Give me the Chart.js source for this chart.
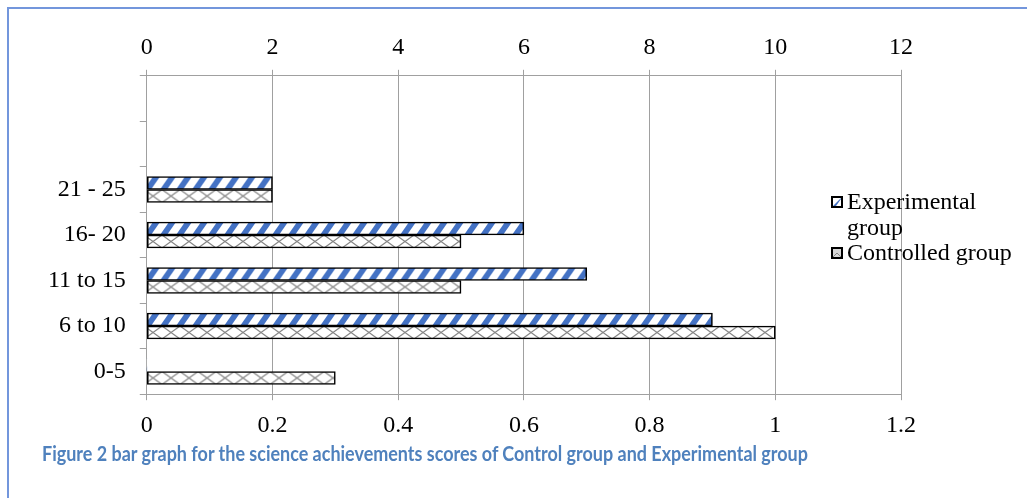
<!DOCTYPE html>
<html>
<head>
<meta charset="utf-8">
<script src="https://cdn.jsdelivr.net/npm/chart.js@4.4.1/dist/chart.umd.min.js"></script>
<style>
  html, body { margin: 0; padding: 0; background: #fff; }
  #wrap { position: relative; width: 1027px; height: 498px; overflow: hidden; }
  #frame { position: absolute; left: 7px; top: 7px; right: -10px; bottom: -10px;
           border-top: 2px solid #7396dc; border-left: 2px solid #7396dc; }
  #chart { position: absolute; left: 0; top: 0; }
  #legend { position: absolute; left: 831px; top: 189px; font-family: "Liberation Serif", serif;
            font-size: 24px; line-height: 25.5px; color: #000; }
  #legend .item { position: relative; padding-left: 16px; }
  #legend canvas { position: absolute; left: 0; top: 7px; }
  #caption { position: absolute; left: 42px; top: 441px; font-family: Lato, sans-serif;
             font-weight: bold; font-size: 20px; color: #4f81bd; white-space: nowrap;
             transform-origin: 0 0; }
</style>
</head>
<body>
<div id="wrap">
  <div id="frame"></div>
  <canvas id="chart" width="1027" height="498"></canvas>
  <div id="legend"></div>
  <div id="caption">Figure 2 bar graph for the science achievements scores of Control group and Experimental group</div>
</div>
<script>
// score bands, top to bottom (two empty rows above the first band)
var bands = ["", "", "21 - 25", "16- 20", "11 to 15", "6 to 10", "0-5"];
var experimental = [null, null, 0.2, 0.6, 0.7, 0.9, 0];
var controlled = [null, null, 0.2, 0.5, 0.5, 1.0, 0.3];
var seriesNames = ["Experimental group", "Controlled group"];

var BAR_H = 13;
var BLUE = "#4472c4";

function stripeTile() {
    var c = document.createElement("canvas");
    var w = 16, h = BAR_H;
    c.width = w; c.height = h;
    var g = c.getContext("2d");
    g.fillStyle = "#fff";
    g.fillRect(0, 0, w, h);
    g.fillStyle = BLUE;
    for (var k = -1; k <= 1; k++) {
        var x = k * w;
        g.beginPath();
        g.moveTo(x, h);
        g.lineTo(x + 7, h);
        g.lineTo(x + 7 + 9, 0);
        g.lineTo(x + 9, 0);
        g.closePath();
        g.fill();
    }
    return c;
}

function crossTile() {
    var c = document.createElement("canvas");
    var w = 18, h = BAR_H;
    c.width = w; c.height = h;
    var g = c.getContext("2d");
    g.fillStyle = "#fff";
    g.fillRect(0, 0, w, h);
    g.strokeStyle = "#858585";
    g.lineWidth = 1.2;
    g.beginPath();
    g.moveTo(0, 0); g.lineTo(w, h);
    g.moveTo(0, h); g.lineTo(w, 0);
    g.stroke();
    return c;
}

var tiles = [stripeTile(), crossTile()];
var ctx = document.getElementById("chart").getContext("2d");

// pattern anchored at each bar's top edge so every bar shows the same band
function barFill(c) {
    var tile = tiles[c.datasetIndex];
    var pat = ctx.createPattern(tile, "repeat");
    var y = c.chart.scales && c.chart.scales.y;
    if (y && c.type === "data") {
        var top = y.getPixelForValue(c.dataIndex) - (c.datasetIndex === 0 ? BAR_H : 0);
        pat.setTransform(new DOMMatrix([1, 0, 0, 1, 0, top]));
    }
    return pat;
}

function barBorder(c) { return c.raw ? 1.6 : 0; }

Chart.defaults.font.family = "'Liberation Serif', 'Times New Roman', serif";
Chart.defaults.font.size = 24;
Chart.defaults.color = "#000";

var GRID = "#a0a0a0";

new Chart(ctx, {
    type: "bar",
    data: {
        labels: bands,
        datasets: [
            { label: seriesNames[0], data: experimental, xAxisID: "x",
              backgroundColor: barFill, borderColor: "#000", borderWidth: barBorder, borderSkipped: false },
            { label: seriesNames[1], data: controlled, xAxisID: "x",
              backgroundColor: barFill, borderColor: "#000", borderWidth: barBorder, borderSkipped: false }
        ]
    },
    options: {
        indexAxis: "y",
        responsive: false,
        animation: false,
        barThickness: BAR_H,
        layout: { padding: { left: 34, right: 126, top: 25, bottom: 47 } },
        plugins: { legend: { display: false }, tooltip: { enabled: false } },
        scales: {
            x: {
                position: "bottom",
                min: 0, max: 1.2,
                ticks: { stepSize: 0.2, padding: 11,
                         callback: function (v) { return String(Number(v.toFixed(1))); } },
                grid: { color: GRID, tickLength: 6 },
                border: { color: GRID }
            },
            x2: {
                position: "top",
                min: 0, max: 12,
                ticks: { stepSize: 2, padding: 8 },
                grid: { drawOnChartArea: false, color: GRID, tickLength: 6 },
                border: { color: GRID }
            },
            y: {
                ticks: { padding: 14 },
                grid: { offset: true, drawOnChartArea: false, color: GRID, tickLength: 7 },
                border: { color: GRID }
            }
        }
    }
});

// legend on the right, over the plot
var legend = document.getElementById("legend");
var legendLines = [["Experimental", "group"], ["Controlled group"]];
legendLines.forEach(function (lines, i) {
    var item = document.createElement("div");
    item.className = "item";
    var sw = document.createElement("canvas");
    sw.width = 12; sw.height = 12;
    var g = sw.getContext("2d");
    g.fillStyle = "#fff";
    g.fillRect(0, 0, 12, 12);
    if (i === 0) {
        g.fillStyle = BLUE;
        g.beginPath(); g.moveTo(2, 10); g.lineTo(5, 10); g.lineTo(10, 3); g.lineTo(10, 2); g.closePath(); g.fill();
    } else {
        g.fillStyle = "#d8d8d8";
        g.fillRect(1, 1, 10, 10);
        g.strokeStyle = "#888"; g.lineWidth = 1;
        g.beginPath(); g.moveTo(2, 10); g.lineTo(6, 6); g.lineTo(10, 10); g.stroke();
    }
    g.strokeStyle = "#000"; g.lineWidth = 2;
    g.strokeRect(1, 1, 10, 10);
    item.appendChild(sw);
    lines.forEach(function (t) {
        var d = document.createElement("div");
        d.textContent = t;
        item.appendChild(d);
    });
    legend.appendChild(item);
});

// caption squeezed to the printed width
var cap = document.getElementById("caption");
cap.style.transform = "scaleX(" + (766 / cap.offsetWidth) + ")";
</script>
</body>
</html>
